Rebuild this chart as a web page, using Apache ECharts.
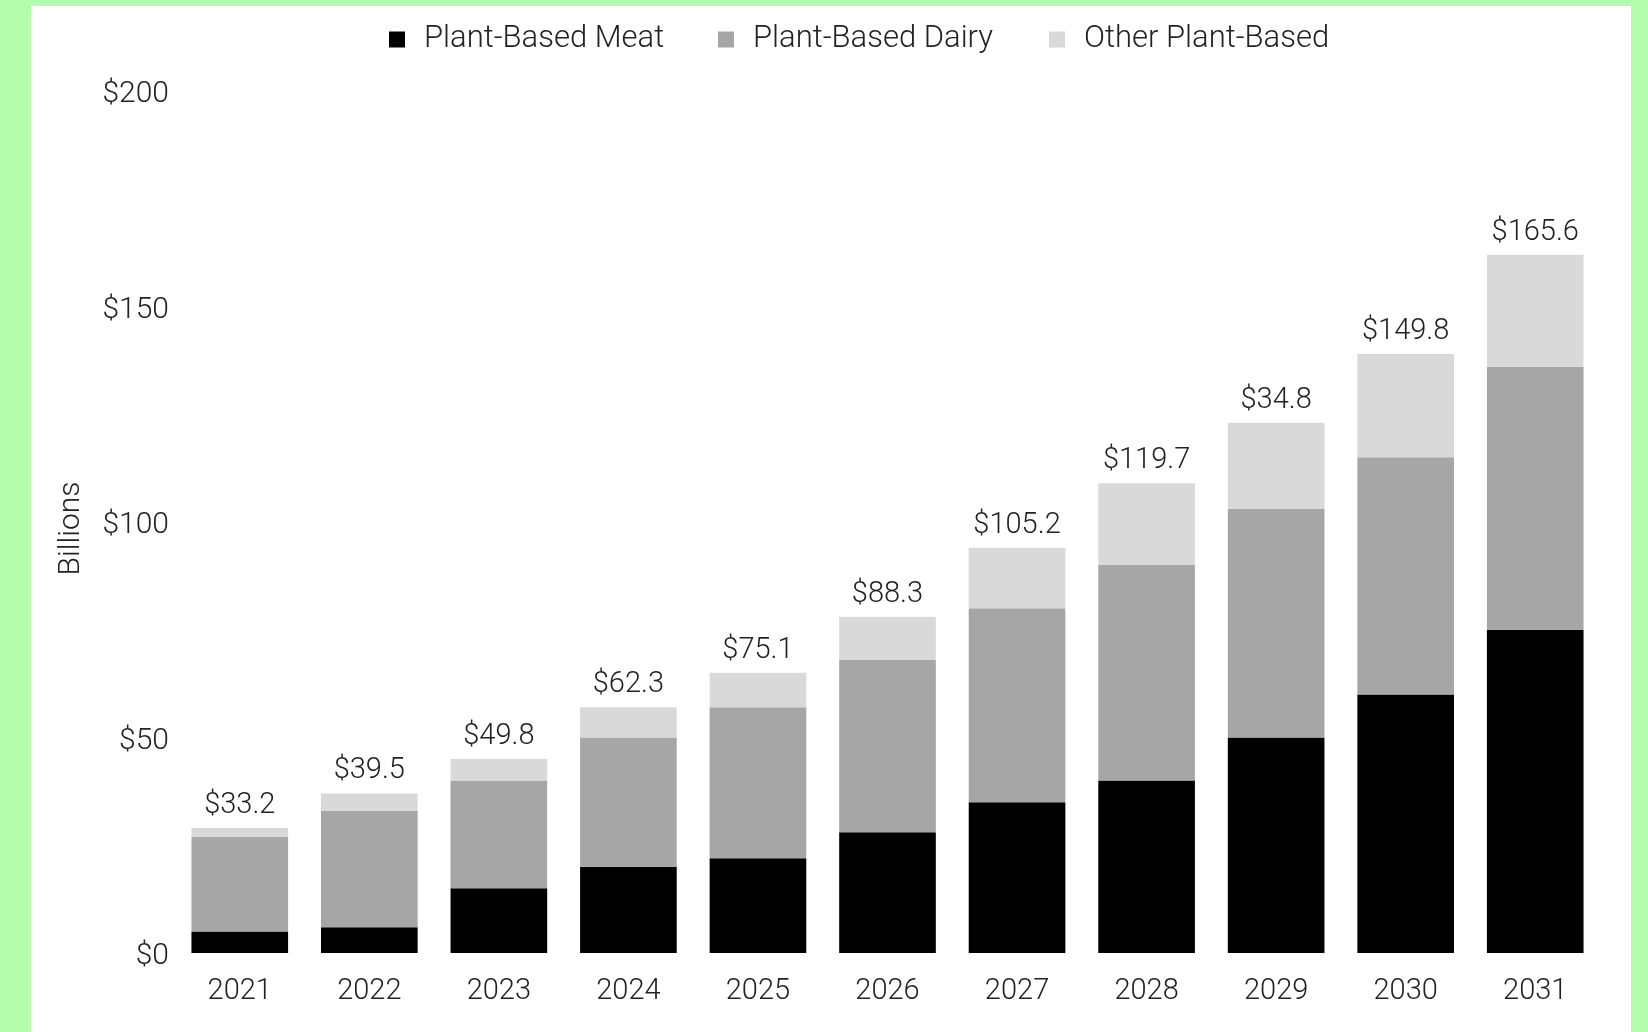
<!DOCTYPE html>
<html>
<head>
<meta charset="utf-8">
<script src="https://cdn.jsdelivr.net/npm/echarts@6/dist/echarts.min.js"></script>
<style>
html,body{margin:0;padding:0;width:1648px;height:1032px;background:#b3fdac;overflow:hidden;}
#c{position:absolute;left:31px;top:6px;width:1600px;height:1026px;background:#ffffff;}
</style>
</head>
<body>
<div id="c"></div>
<script>
const years = ['2021','2022','2023','2024','2025','2026','2027','2028','2029','2030','2031'];
const meat  = [5, 6, 15, 20, 22, 28, 35, 40, 50, 60, 75];
const dairy = [22, 27, 25, 30, 35, 40, 45, 50, 53, 55, 61];
const other = [2, 4, 5, 7, 8, 10, 14, 19, 20, 24, 26];
const totalLabels = ['$33.2','$39.5','$49.8','$62.3','$75.1','$88.3','$105.2','$119.7','$34.8','$149.8','$165.6'];
const yTicks = [0, 50, 100, 150, 200];

const FONT = 'Roboto';
const TXT = '#222222';
const chart = echarts.init(document.getElementById('c'));
const legendText = {color: TXT, fontFamily: FONT, fontSize: 31, fontWeight: 300, padding: [0,0,0,14]};
function lg(name, left) {
  return {data: [name], left: left, top: 13, itemWidth: 16, itemHeight: 16, icon: 'rect',
    textStyle: legendText, selectedMode: false};
}
chart.setOption({
  animation: false,
  legend: [lg('Plant-Based Meat', 353), lg('Plant-Based Dairy', 682), lg('Other Plant-Based', 1013)],
  grid: {left: 144, right: 31, top: 85, bottom: 79},
  xAxis: {
    type: 'category', data: years,
    axisLine: {show: false}, axisTick: {show: false},
    axisLabel: {color: TXT, fontFamily: FONT, fontSize: 29, fontWeight: 300, margin: 24}
  },
  yAxis: {
    type: 'value', min: 0, max: 200, interval: 50,
    name: 'Billions', nameLocation: 'middle', nameGap: 89,
    nameTextStyle: {color: TXT, fontFamily: FONT, fontSize: 30, fontWeight: 300, padding: [0,13,0,0]},
    axisLine: {show: false}, axisTick: {show: false}, splitLine: {show: false},
    axisLabel: {margin: 6,
      formatter: v => yTicks.includes(v) ? '{t|$' + v + '}' : '',
      rich: {t: {color: TXT, fontFamily: FONT, fontSize: 30, fontWeight: 300, padding: [7,0,0,0]}}}
  },
  series: [
    {name: 'Plant-Based Meat', type: 'bar', stack: 't', data: meat, barWidth: '74.6%',
      itemStyle: {color: '#000000'}},
    {name: 'Plant-Based Dairy', type: 'bar', stack: 't', data: dairy,
      itemStyle: {color: '#a6a6a6'}},
    {name: 'Other Plant-Based', type: 'bar', stack: 't', data: other,
      itemStyle: {color: '#d9d9d9'},
      label: {show: true, position: 'top', distance: 8, color: TXT, fontFamily: FONT,
        fontSize: 29, fontWeight: 300, formatter: p => totalLabels[p.dataIndex]}}
  ]
});
</script>
</body>
</html>
